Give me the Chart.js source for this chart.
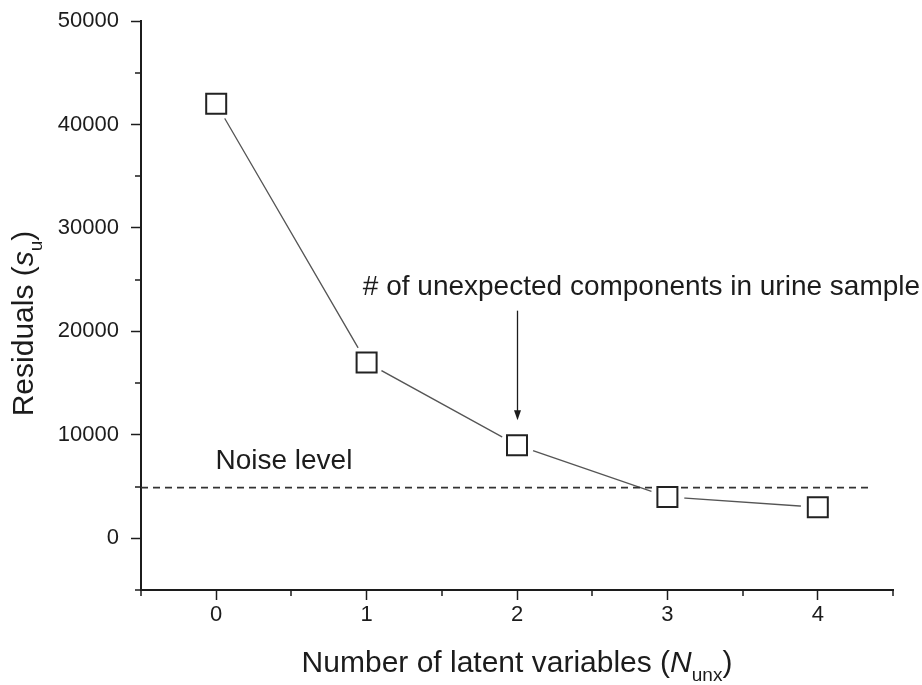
<!DOCTYPE html>
<html><head><meta charset="utf-8">
<script src="https://cdn.jsdelivr.net/npm/chart.js@4.4.0/dist/chart.umd.min.js"></script>
<style>html,body{margin:0;padding:0;background:#fff;overflow:hidden}</style>
</head><body>
<canvas id="c" width="922" height="685"></canvas>
<script>
// ---- data ----
const latentVariables = [0, 1, 2, 3, 4];
const residuals = [42000, 17000, 9000, 4000, 3000];
const noiseLevel = 4900;
const noiseLineX = [-0.5, 4.35];
const xMajorTicks = [0, 1, 2, 3, 4];
const xMinorTicks = [-0.5, 0.5, 1.5, 2.5, 3.5, 4.5];
const yMajorTicks = [0, 10000, 20000, 30000, 40000, 50000];
const yMinorTicks = [-5000, 5000, 15000, 25000, 35000, 45000];
const annotationText = '# of unexpected components in urine sample';
const noiseText = 'Noise level';
const arrowAt = { x: 2, from: 22000, to: 11400 };
const annotationAnchor = { x: 0.975, y: 23500 };
const noiseAnchor = { x: -0.005, y: 6700 };

const FONT = '"Liberation Sans", Arial, sans-serif';
const INK = '#1c1c1c';

const points = latentVariables.map((v, i) => ({ x: v, y: residuals[i] }));
const noisePoints = noiseLineX.map(v => ({ x: v, y: noiseLevel }));

function drawRich(ctx, parts, size, x, y, align) {
  const sub = 0.62;
  const fontFor = p => (p.italic ? 'italic ' : '') + Math.round(p.sub ? size * sub : size) + 'px ' + FONT;
  let total = 0;
  parts.forEach(p => { ctx.font = fontFor(p); p.w = ctx.measureText(p.t).width; total += p.w; });
  let cx = align === 'center' ? x - total / 2 : x;
  parts.forEach(p => {
    ctx.font = fontFor(p);
    ctx.fillText(p.t, cx, y + (p.sub ? size * 0.3 : 0));
    cx += p.w;
  });
}

const decor = {
  id: 'decor',
  afterDraw(chart) {
    const { ctx, chartArea: a, scales: { x, y } } = chart;
    ctx.save();
    ctx.strokeStyle = INK; ctx.lineWidth = 1.5;
    ctx.beginPath();
    yMinorTicks.forEach(v => { const py = Math.round(y.getPixelForValue(v)); ctx.moveTo(a.left - 6, py); ctx.lineTo(a.left, py); });
    xMinorTicks.forEach(v => { const px = Math.round(x.getPixelForValue(v)); ctx.moveTo(px, a.bottom); ctx.lineTo(px, a.bottom + 6); });
    ctx.stroke();

    // arrow
    const ax = Math.round(x.getPixelForValue(arrowAt.x)) + 0.5;
    const y1 = y.getPixelForValue(arrowAt.from), y2 = y.getPixelForValue(arrowAt.to);
    ctx.lineWidth = 1.3;
    ctx.beginPath(); ctx.moveTo(ax, y1); ctx.lineTo(ax, y2 - 8); ctx.stroke();
    ctx.fillStyle = INK;
    ctx.beginPath(); ctx.moveTo(ax - 3.5, y2 - 10); ctx.lineTo(ax + 3.5, y2 - 10); ctx.lineTo(ax, y2); ctx.closePath(); ctx.fill();

    // annotations
    ctx.textBaseline = 'alphabetic'; ctx.textAlign = 'left';
    ctx.font = '28px ' + FONT;
    ctx.fillText(annotationText, x.getPixelForValue(annotationAnchor.x), y.getPixelForValue(annotationAnchor.y));
    ctx.fillText(noiseText, x.getPixelForValue(noiseAnchor.x), y.getPixelForValue(noiseAnchor.y));

    // axis titles
    drawRich(ctx, [{ t: 'Number of latent variables (' }, { t: 'N', italic: true }, { t: 'unx', sub: true }, { t: ')' }], 30,
      (a.left + a.right) / 2, a.bottom + 82, 'center');
    ctx.save();
    ctx.translate(33, (a.top + a.bottom) / 2 + 18);
    ctx.rotate(-Math.PI / 2);
    drawRich(ctx, [{ t: 'Residuals (' }, { t: 's', italic: true }, { t: 'u', sub: true }, { t: ')' }], 30, 0, 0, 'center');
    ctx.restore();
    ctx.restore();
  }
};

new Chart(document.getElementById('c'), {
  type: 'scatter',
  data: {
    datasets: [
      { data: points, pointStyle: 'rect', pointRadius: 14.14, backgroundColor: '#fff', borderColor: '#222', borderWidth: 2, showLine: false, order: 0 },
      { data: noisePoints, showLine: true, borderColor: '#333', borderWidth: 1.8, borderDash: [7, 5], pointRadius: 0, order: 1 },
      { data: points, pointStyle: 'circle', pointRadius: 17, backgroundColor: '#fff', borderWidth: 0, showLine: false, order: 2 },
      { data: points, showLine: true, borderColor: '#555', borderWidth: 1.3, pointRadius: 0, order: 3 }
    ]
  },
  options: {
    responsive: false,
    animation: false,
    events: [],
    layout: { padding: { top: 21, right: 29, left: 0, bottom: 0 } },
    plugins: { legend: { display: false }, tooltip: { enabled: false } },
    scales: {
      x: {
        type: 'linear', min: -0.5, max: 4.5,
        afterBuildTicks: s => { s.ticks = xMajorTicks.map(v => ({ value: v })); },
        afterFit: s => { s.height = 95; s.paddingLeft = 0; s.paddingRight = 0; },
        border: { display: true, color: INK, width: 2 },
        grid: { drawOnChartArea: false, drawTicks: true, tickLength: 10, color: INK, tickWidth: 1.5 },
        ticks: { color: INK, font: { family: FONT, size: 22 }, padding: 2, callback: v => String(v), maxRotation: 0 }
      },
      y: {
        type: 'linear', min: -5000, max: 50000,
        afterBuildTicks: s => { s.ticks = yMajorTicks.map(v => ({ value: v })); },
        afterFit: s => { s.width = 141; s.paddingTop = 0; s.paddingBottom = 0; },
        border: { display: true, color: INK, width: 2 },
        grid: { drawOnChartArea: false, drawTicks: true, tickLength: 10, color: INK, tickWidth: 1.5 },
        ticks: { color: INK, font: { family: FONT, size: 22 }, padding: 12, callback: v => String(v) }
      }
    }
  },
  plugins: [decor]
});
</script>
</body></html>
